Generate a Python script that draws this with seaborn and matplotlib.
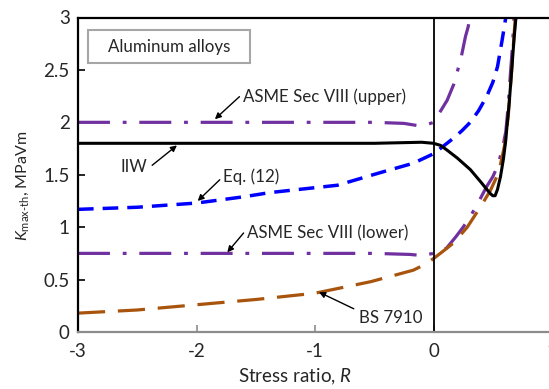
import matplotlib
matplotlib.use("Agg")
import matplotlib.pyplot as plt
import matplotlib.patches as mpatches
import seaborn as sns

# ---- data ----
asme_up_R = [-3, -2, -1, -0.5, -0.25, -0.14, -0.05, 0, 0.05, 0.115, 0.17, 0.23, 0.27, 0.29, 0.31]
asme_up_K = [2.0, 2.0, 2.0, 2.0, 1.99, 1.97, 1.98, 2.0, 2.09, 2.21, 2.36, 2.60, 2.82, 2.90, 3.0]

asme_lo_R = [-3, -2, -1, -0.5, -0.2, -0.1, 0, 0.05, 0.11, 0.19, 0.25, 0.31, 0.38, 0.45, 0.50, 0.54, 0.58, 0.61, 0.63, 0.65, 0.665, 0.68]
asme_lo_K = [0.75, 0.75, 0.75, 0.75, 0.74, 0.73, 0.75, 0.77, 0.80, 0.91, 1.0, 1.10, 1.24, 1.39, 1.48, 1.58, 1.74, 1.91, 2.15, 2.48, 2.70, 3.0]

eq12_R = [-3, -2.5, -2, -1.6, -1.38, -0.81, -0.45, -0.17, 0, 0.08, 0.17, 0.24, 0.31, 0.38, 0.45, 0.50, 0.54, 0.58, 0.61]
eq12_K = [1.17, 1.19, 1.23, 1.29, 1.33, 1.40, 1.52, 1.61, 1.70, 1.77, 1.85, 1.92, 2.0, 2.11, 2.25, 2.38, 2.53, 2.79, 3.0]

bs_R = [-3, -2.5, -2, -1.5, -1.0, -0.53, -0.3, -0.17, -0.08, 0, 0.08, 0.17, 0.285, 0.40, 0.48, 0.55, 0.60, 0.63, 0.66, 0.69]
bs_K = [0.18, 0.21, 0.26, 0.31, 0.37, 0.48, 0.55, 0.59, 0.64, 0.70, 0.77, 0.85, 1.0, 1.20, 1.35, 1.52, 1.78, 2.05, 2.5, 3.0]

iiw_R = [-3, -2, -1, -0.5, -0.1, 0, 0.06, 0.12, 0.2, 0.31, 0.4, 0.45, 0.48, 0.50, 0.52, 0.54, 0.565, 0.59, 0.61, 0.62, 0.64, 0.66, 0.68, 0.70]
iiw_K = [1.80, 1.80, 1.80, 1.80, 1.81, 1.80, 1.78, 1.73, 1.66, 1.55, 1.43, 1.36, 1.32, 1.30, 1.30, 1.36, 1.48, 1.65, 1.83, 1.96, 2.2, 2.5, 2.8, 3.05]

x_ticks = [-3, -2, -1, 0, 1]
y_ticks = [0, 0.5, 1, 1.5, 2, 2.5, 3]
y_tick_labels = ["0", "0.5", "1", "1.5", "2", "2.5", "3"]

sns.set_theme(style="white")
plt.rcParams["font.family"] = ["Lato", "DejaVu Sans"]
plt.rcParams["mathtext.fontset"] = "custom"
plt.rcParams["mathtext.rm"] = "Lato"
plt.rcParams["mathtext.it"] = "Lato:italic"
plt.rcParams["axes.unicode_minus"] = False

fig = plt.figure(figsize=(5.49, 3.89), dpi=100)
ax = fig.add_axes([78 / 549, 57 / 389, 474 / 549, 314.5 / 389])

purple = "#7030A0"
blue = "#0000FF"
brown = "#A8540C"

sns.lineplot(x=asme_up_R, y=asme_up_K, ax=ax, color=purple, lw=2.3, sort=False,
             linestyle=(0, (10, 4, 1.2, 4)), dash_capstyle="butt")
sns.lineplot(x=asme_lo_R, y=asme_lo_K, ax=ax, color=purple, lw=2.3, sort=False,
             linestyle=(0, (10, 4, 1.2, 4)), dash_capstyle="butt")
sns.lineplot(x=eq12_R, y=eq12_K, ax=ax, color=blue, lw=2.5, sort=False,
             linestyle=(0, (4.5, 2.6)), dash_capstyle="butt")
sns.lineplot(x=bs_R, y=bs_K, ax=ax, color=brown, lw=2.3, sort=False,
             linestyle=(0, (8.5, 4)), dash_capstyle="butt")
sns.lineplot(x=iiw_R, y=iiw_K, ax=ax, color="black", lw=2.2, sort=False)

ax.axvline(0, color="black", lw=1.3)

ax.set_xlim(-3, 1)
ax.set_ylim(0, 3)
ax.set_xticks(x_ticks)
ax.set_yticks(y_ticks)
ax.set_yticklabels(y_tick_labels)

for s in ["left", "top"]:
    ax.spines[s].set_color("black")
    ax.spines[s].set_linewidth(1.6)
ax.spines["bottom"].set_color("#8C8C8C")
ax.spines["bottom"].set_linewidth(1.6)
ax.spines["right"].set_visible(False)

ax.tick_params(axis="x", direction="in", length=5, width=1.2, color="#8C8C8C",
               labelsize=13.5, pad=8, bottom=True)
ax.tick_params(axis="y", direction="in", length=5, width=1.2, color="black",
               labelsize=13.5, pad=6, left=True)

ax.set_xlabel("Stress ratio, $\\it{R}$", fontsize=13.5)
ax.xaxis.set_label_coords((295 - 78) / 474, -(377 - 332) / 314.5)
ax.xaxis.label.set_va("center")
ax.set_ylabel("$\\it{K}_{\\rm max\\text{-}th}$, MPaVm", fontsize=11.5)
ax.yaxis.set_label_coords(-(78 - 23) / 474, (332 - 186) / 314.5)
ax.yaxis.label.set_va("center")

# "Aluminum alloys" framed label
ax.add_patch(mpatches.Rectangle((10 / 474, (332 - 63) / 314.5), 162 / 474, 33 / 314.5,
                                transform=ax.transAxes, fc="white", ec="#A6A6A6", lw=1.5, zorder=5))
ax.text((169 - 78) / 474, (332 - 47) / 314.5, "Aluminum alloys", transform=ax.transAxes,
        fontsize=12.2, ha="center", va="center", zorder=6)

arrow = dict(arrowstyle="-|>", color="black", lw=1.0, mutation_scale=9, shrinkA=0, shrinkB=0)
fs = 12.2
ax.annotate("ASME Sec VIII (upper)", xy=(-1.845, 2.03), xytext=(-1.61, 2.245),
            fontsize=fs, ha="left", va="center", arrowprops=dict(arrow, relpos=(-0.02, 0.5)))
ax.annotate("IIW", xy=(-2.165, 1.78), xytext=(-2.645, 1.575),
            fontsize=fs, ha="left", va="center", arrowprops=dict(arrow, relpos=(1.2, 0.6)))
ax.annotate("Eq. (12)", xy=(-1.99, 1.25), xytext=(-1.776, 1.48),
            fontsize=fs, ha="left", va="center", arrowprops=dict(arrow, relpos=(-0.02, 0.45)))
ax.annotate("ASME Sec VIII (lower)", xy=(-1.74, 0.76), xytext=(-1.575, 0.945),
            fontsize=fs, ha="left", va="center", arrowprops=dict(arrow, relpos=(-0.02, 0.5)))
ax.annotate("BS 7910", xy=(-0.966, 0.38), xytext=(-0.63, 0.13),
            fontsize=fs, ha="left", va="center", arrowprops=dict(arrow, relpos=(-0.08, 1.1)))

fig.savefig("out.png", dpi=100)
